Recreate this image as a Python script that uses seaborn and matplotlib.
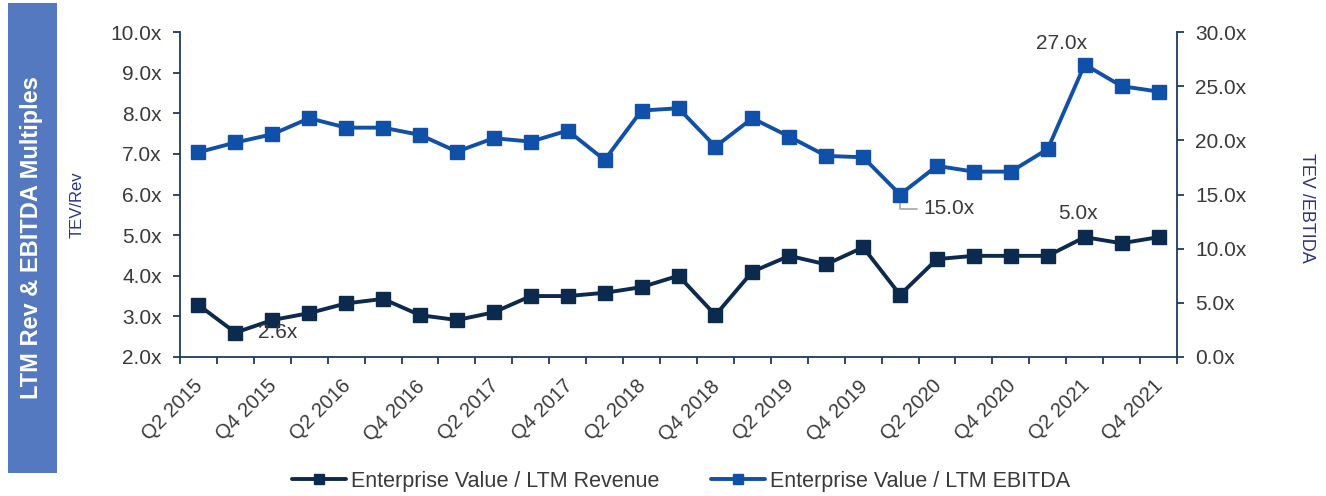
import matplotlib
matplotlib.use('Agg')
import matplotlib.pyplot as plt
import seaborn as sns
import pandas as pd
import numpy as np
from matplotlib.lines import Line2D
from matplotlib.patches import Rectangle
from matplotlib.ticker import FuncFormatter
from matplotlib.transforms import ScaledTranslation

quarters = ['Q2 2015', 'Q3 2015', 'Q4 2015', 'Q1 2016', 'Q2 2016', 'Q3 2016', 'Q4 2016',
            'Q1 2017', 'Q2 2017', 'Q3 2017', 'Q4 2017', 'Q1 2018', 'Q2 2018', 'Q3 2018',
            'Q4 2018', 'Q1 2019', 'Q2 2019', 'Q3 2019', 'Q4 2019', 'Q1 2020', 'Q2 2020',
            'Q3 2020', 'Q4 2020', 'Q1 2021', 'Q2 2021', 'Q3 2021', 'Q4 2021']
ev_revenue = [3.28, 2.6, 2.91, 3.08, 3.32, 3.43, 3.03, 2.91, 3.10, 3.50, 3.50, 3.58, 3.72,
              4.00, 3.03, 4.10, 4.49, 4.28, 4.70, 3.53, 4.41, 4.49, 4.49, 4.49, 4.95, 4.80, 4.95]
ev_ebitda = [18.9, 19.8, 20.56, 22.04, 21.17, 21.17, 20.5, 18.96, 20.2, 19.88, 20.9, 18.19,
             22.75, 22.96, 19.42, 22.04, 20.34, 18.56, 18.44, 15.0, 17.64, 17.11, 17.11,
             19.2, 27.0, 25.0, 24.5]
series_names = ['Enterprise Value / LTM Revenue', 'Enterprise Value / LTM EBITDA']
annotations_rev = {1: '2.6x', 24: '5.0x'}
annotations_ebitda = {24: '27.0x', 19: '15.0x'}

NAVY = '#0C2A4E'
BLUE = '#1150A8'
SPINE = '#1F3A60'
TXT = '#3A3A3A'
LABEL = '#2E3580'
BANNER = '#5479C1'

sns.set_theme(style='white')
plt.rcParams['font.family'] = ['Liberation Sans', 'DejaVu Sans']

df = pd.DataFrame({'pos': np.arange(len(quarters)), 'quarter': quarters,
                   'rev': ev_revenue, 'ebitda': ev_ebitda})

W, H = 1326, 496
fig = plt.figure(figsize=(W / 100, H / 100), dpi=100)
ax = fig.add_axes([180 / W, 1 - 357 / H, (1177 - 180) / W, (357 - 32) / H])
ax2 = ax.twinx()

sns.lineplot(data=df, x='pos', y='rev', ax=ax, color=NAVY, marker='s', markersize=9.5,
             markeredgecolor=NAVY, markeredgewidth=1, linewidth=2.8, legend=False)
sns.lineplot(data=df, x='pos', y='ebitda', ax=ax2, color=BLUE, marker='s', markersize=9.5,
             markeredgecolor=BLUE, markeredgewidth=1, linewidth=2.8, legend=False)

for a in (ax, ax2):
    a.set_xlabel('')
    a.set_ylabel('')
    a.set_facecolor('none')
    a.grid(False)
    for s in a.spines.values():
        s.set_visible(False)

ax.spines['left'].set_visible(True)
ax.spines['bottom'].set_visible(True)
ax2.spines['right'].set_visible(True)
for s in (ax.spines['left'], ax.spines['bottom'], ax2.spines['right']):
    s.set_color(SPINE)
    s.set_linewidth(1.3)

n = len(quarters)
ax.set_xlim(-0.5, n - 0.5)
ax.set_ylim(2, 10)
ax2.set_ylim(0, 30)
ax.set_yticks(np.arange(2, 10.01, 1))
ax2.set_yticks(np.arange(0, 30.01, 5))
fmt = FuncFormatter(lambda v, p: f'{v:.1f}x')
ax.yaxis.set_major_formatter(fmt)
ax2.yaxis.set_major_formatter(fmt)

ax.set_xticks(np.arange(-0.5, n, 1))
ax.set_xticklabels([])
ax.set_xticks(np.arange(0, n, 2), minor=True)
ax.set_xticklabels(quarters[::2], minor=True)

ax.tick_params(axis='x', which='major', bottom=True, length=5, width=1.3, color=SPINE)
ax.tick_params(axis='x', which='minor', bottom=True, length=0, pad=14, labelsize=14.5,
               labelcolor=TXT)
ax.tick_params(axis='y', left=True, length=5, width=1.3, color=SPINE, pad=8,
               labelsize=15, labelcolor=TXT)
ax2.tick_params(axis='y', right=True, left=False, length=5, width=1.3, color=SPINE,
                pad=8, labelsize=15, labelcolor=TXT)
shift = ScaledTranslation(-5 / 100, 0, fig.dpi_scale_trans)
for lbl in ax.get_xticklabels(minor=True):
    lbl.set_rotation(45)
    lbl.set_ha('right')
    lbl.set_va('top')
    lbl.set_rotation_mode('anchor')
    lbl.set_transform(lbl.get_transform() + shift)

# Data labels
ax.annotate(annotations_rev[1], xy=(1, ev_revenue[1]), xytext=(23, 0),
            textcoords='offset pixels', ha='left', va='center', fontsize=15, color=TXT)
ax.annotate(annotations_rev[24], xy=(24, ev_revenue[24]), xytext=(-7, 24),
            textcoords='offset pixels', ha='center', va='center', fontsize=15, color=TXT)
ax2.annotate(annotations_ebitda[24], xy=(24, ev_ebitda[24]), xytext=(-23, 21),
             textcoords='offset pixels', ha='center', va='center', fontsize=15, color=TXT)
ax2.annotate(annotations_ebitda[19], xy=(19, ev_ebitda[19]), xytext=(23, -14),
             textcoords='offset pixels', ha='left', va='center', fontsize=15, color=TXT,
             arrowprops=dict(arrowstyle='-', color='#A6A6A6', lw=1.2, shrinkA=2, shrinkB=0,
                             connectionstyle='angle,angleA=0,angleB=90,rad=0'),
             zorder=1)

# Axis titles
fig.text(77 / W, 1 - 205 / H, 'TEV/Rev', rotation=90, ha='center', va='center',
         fontsize=12, color=LABEL)
fig.text(1307 / W, 1 - 208 / H, 'TEV /EBTIDA', rotation=270, ha='center', va='center',
         fontsize=13, color=LABEL)

# Banner
fig.patches.append(Rectangle((8 / W, 1 - 473 / H), 49 / W, 470 / H,
                             transform=fig.transFigure, facecolor=BANNER,
                             edgecolor='none', zorder=0))
fig.text(32 / W, 1 - 238 / H, 'LTM Rev & EBITDA Multiples', rotation=90, ha='center',
         va='center', fontsize=17, fontweight='bold', color='white')

# Legend
handles = [Line2D([], [], color=NAVY, marker='s', markersize=7, linewidth=2.8),
           Line2D([], [], color=BLUE, marker='s', markersize=7, linewidth=2.8)]
leg = fig.legend(handles, series_names, loc='center', bbox_to_anchor=(681 / W, 1 - 481 / H),
                 ncol=2, frameon=False, fontsize=15.5, handlelength=2.5, columnspacing=2.4,
                 handletextpad=0.25, numpoints=1)
for t in leg.get_texts():
    t.set_color(TXT)

fig.savefig('out.png', dpi=100)
